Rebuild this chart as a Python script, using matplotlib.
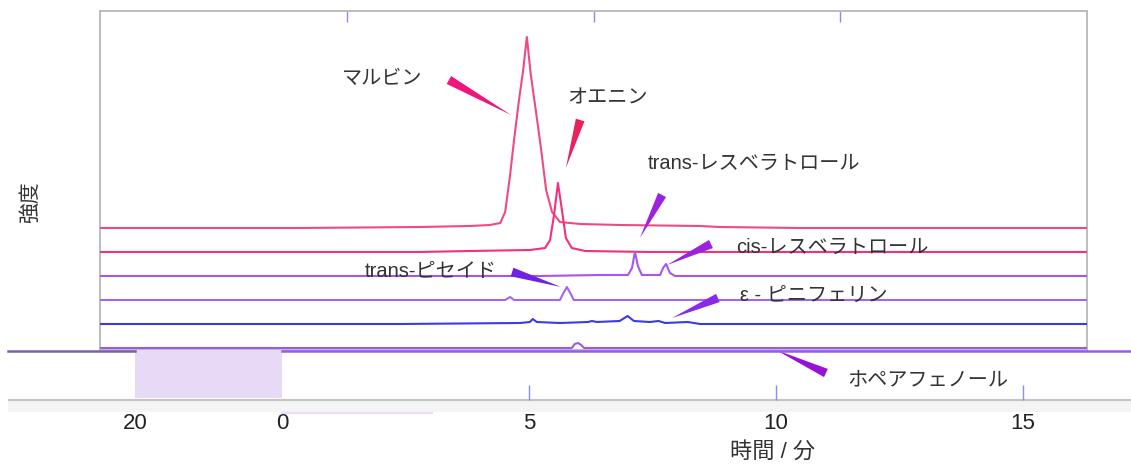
import matplotlib.pyplot as plt
import numpy as np
from matplotlib.patches import Polygon, Rectangle

plt.rcParams['font.family'] = ['Liberation Sans', 'Noto Sans CJK JP', 'DejaVu Sans']

# retention time [min] and signal above each trace's own baseline
malvin_t = [0, 4.05, 6.48, 7.50, 7.90, 8.11, 8.21, 8.31, 8.39, 8.49, 8.57, 8.65,
            8.73, 8.83, 8.94, 9.04, 9.16, 9.32, 9.73, 10.54, 12.16, 12.56, 14.18, 20]
malvin_i = [0, 0, 1, 2, 3, 5, 16, 53, 88, 128, 156, 191,
            153, 118, 78, 38, 16, 6, 4, 3, 2, 1, 0, 0]

oenin_t = [0, 6.48, 7.50, 8.71, 9.02, 9.12, 9.20, 9.28, 9.36, 9.44, 9.56, 9.83, 11.14, 20]
oenin_i = [0, 0, 1, 2, 4, 12, 37, 69, 42, 14, 4, 1, 0, 0]

resveratrol_t = [0, 8.92, 10.13, 10.70, 10.78, 10.84, 10.90, 10.98,
                 11.35, 11.41, 11.47, 11.55, 11.65, 20]
resveratrol_i = [0, 0, 1, 1, 8, 24, 10, 1, 1, 8, 12, 3, 0, 0]

piceid_t = [0, 8.21, 8.31, 8.39, 9.32, 9.38, 9.46, 9.54, 9.60, 20]
piceid_i = [0, 0, 3, 0, 0, 6, 13, 6, 0, 0]

viniferin_t = [0, 6.08, 8.51, 8.71, 8.77, 8.85, 9.32, 9.89, 9.97, 10.07, 10.53, 10.69,
               10.82, 11.14, 11.32, 11.45, 11.91, 12.16, 20]
viniferin_i = [0, 0, 1, 2, 5, 2, 1, 2, 3, 2, 3, 8, 3, 2, 3, 1, 2, 0, 0]

hopeaphenol_t = [0, 9.56, 9.62, 9.69, 9.75, 9.81, 20]
hopeaphenol_i = [0, 0, 4, 5, 3, 0, 0]

traces = [
    (malvin_t, malvin_i, 120, '#f04a82'),
    (oenin_t, oenin_i, 96, '#f2307e'),
    (resveratrol_t, resveratrol_i, 72, '#a855ee'),
    (piceid_t, piceid_i, 48, '#a066f0'),
    (viniferin_t, viniferin_i, 24, '#3a3ae6'),
    (hopeaphenol_t, hopeaphenol_i, 0, '#9a5ae8'),
]

# label text, text position, wedge wide end, wedge tip, wedge colour
peak_labels = [
    ('マルビン', (5.71, 270), (7.07, 268), (8.33, 233), '#f0147c'),
    ('オエニン', (10.29, 250), (9.73, 228), (9.44, 180), '#e8205e'),
    ('trans-レスベラトロール', (13.25, 185), (11.39, 153), (10.94, 110), '#9a22e0'),
    ('cis-レスベラトロール', (14.83, 101), (12.38, 104), (11.49, 83), '#9a22e0'),
    ('trans-ピセイド', (6.71, 76), (8.35, 76), (9.34, 61), '#6f22e0'),
    ('ε - ピニフェリン', (14.47, 53), (12.52, 50), (11.59, 30), '#8a2ae8'),
    ('ホペアフェノール', (16.78, -32), (14.71, -25), (13.70, -2), '#9a10d8'),
]

top_ticks = [5, 10, 15]
bottom_ticks = [-2.98, 0, 5, 10, 15]
bottom_labels = ['20', '0', '5', '10', '15']

fig = plt.figure(figsize=(11.31, 4.68), dpi=100)
ax = fig.add_axes([100 / 1131, 118 / 468, 987 / 1131, 339 / 468])
ax.set_xlim(0, 20)
ax.set_ylim(-2, 337)

for t, i, off, col in traces:
    ax.plot(t, np.array(i) + off, color=col, lw=1.5, zorder=3)


def wedge(base, tip, half_width, color):
    p0 = ax.transData.transform(base)
    p1 = ax.transData.transform(tip)
    d = p1 - p0
    n = np.array([-d[1], d[0]]) / np.hypot(*d) * half_width
    pts = ax.transData.inverted().transform(np.array([p0 + n, p0 - n, p1]))
    ax.add_patch(Polygon(pts, closed=True, facecolor=color, lw=0,
                         clip_on=False, zorder=5))


for text, pos, base, tip, col in peak_labels:
    ax.text(pos[0], pos[1], text, fontsize=14.5, color='#333333',
            ha='center', va='center', zorder=6, clip_on=False)
    wedge(base, tip, 4.5, col)

ax.set_yticks([])
ax.set_xticks(top_ticks)
ax.tick_params(axis='x', top=True, bottom=False, labelbottom=False, labeltop=False,
               direction='in', length=8, width=1, color='#8b8bf0')
for s in ax.spines.values():
    s.set_color('#b8b8b8')
    s.set_linewidth(1.3)

# bottom time strip
ax2 = fig.add_axes([8 / 1131, 56 / 468, 1123 / 1131, 62 / 468])
ax2.set_facecolor('none')
ax2.set_xlim(-5.55, 17.19)
ax2.set_ylim(0, 62)
for s in ax2.spines.values():
    s.set_visible(False)
ax2.add_patch(Rectangle((-5.55, 0), 22.74, 12, facecolor='#f4f4f4', lw=0))
ax2.add_patch(Rectangle((-2.98, 14), 2.98, 48, facecolor='#e6daf7', lw=0))
ax2.plot([-5.55, 17.19], [12, 12], color='#c4c4c4', lw=1.5)
ax2.plot([0, 17.19], [61, 61], color='#9a5ae8', lw=1.8, clip_on=False)
ax2.plot([-5.55, -2.98], [61, 61], color='#7c60b0', lw=1.8, clip_on=False)
ax2.plot([0, 3.04], [-1, -1], color='#e8dcfa', lw=1.5, clip_on=False)
ax2.vlines(top_ticks, 12, 27, color='#8b8bf0', lw=1)
ax2.set_yticks([])
ax2.set_xticks(bottom_ticks, bottom_labels)
ax2.tick_params(axis='x', length=0, pad=1, labelsize=16, labelcolor='#222222')

fig.text(773 / 1131, 1 - 452 / 468, '時間 / 分', fontsize=16, color='#333333',
         ha='center', va='center')
fig.text(30 / 1131, 1 - 202 / 468, '強度', fontsize=15, color='#333333',
         rotation=90, ha='center', va='center')

fig.savefig('out.png', dpi=100)
